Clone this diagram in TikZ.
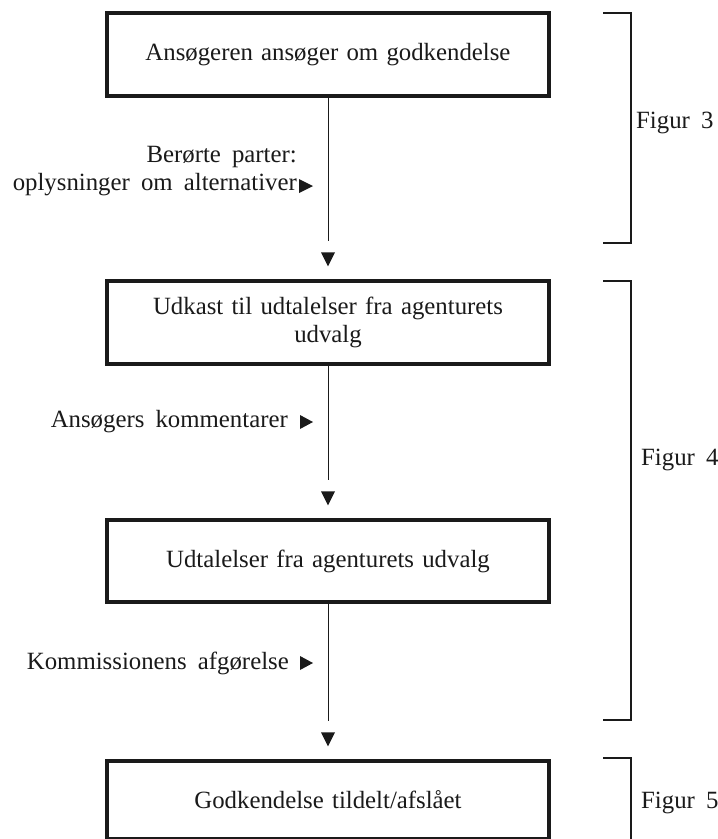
\documentclass[tikz,border=0pt]{standalone}
\usepackage{fontspec}
\setmainfont[WordSpace=1.8]{Liberation Serif}
\usetikzlibrary{calc}
\definecolor{ink}{HTML}{1A1A1A}
\newcommand\diafont{\fontsize{24.8}{28}\selectfont}
\begin{document}
\begin{tikzpicture}[x=1pt,y=-1pt,
  stage/.style={draw=ink, line width=3.5pt, minimum width=442pt, inner sep=0pt,
    align=center, text width=420pt, font=\diafont, text=ink},
  note/.style={inner sep=0pt, font=\diafont, text=ink},
  flow/.style={draw=ink, line width=0.9pt},
  bracket/.style={draw=ink, line width=1.1pt},
  headfill/.style={fill=ink}]
\useasboundingbox (0,0) rectangle (718,839);
\fill[white] (0,0) rectangle (718,839);

% process stages
\node[stage, minimum height=83pt] (b1) at (328,54.5) {Ansøgeren ansøger om godkendelse};
\node[stage, minimum height=83pt] (b2) at (328,322.5) {Udkast til udtalelser fra agenturets\\udvalg};
\node[stage, minimum height=82pt] (b3) at (328,561) {Udtalelser fra agenturets udvalg};
\node[stage, minimum height=78pt] (b4) at (328,800) {Godkendelse tildelt/afslået};

% downward flow: thin line, then a detached arrowhead
\foreach \a/\b in {b1/b2, b2/b3, b3/b4} {
  \draw[flow] (\a.south) -- ($(\b.north)+(0,-38)$);
  \fill[headfill] ($(\b.north)+(0,-13)$) -- ++(-7,-14) -- ++(14,0) -- cycle;
}

% inputs entering the flow
\node[note, anchor=east, align=right] (n1) at (297,171) {Berørte parter:\\oplysninger om alternativer};
\fill[headfill] (299,179) -- (313,186) -- (299,193) -- cycle;

\node[note, anchor=east] (n2) at (288,422) {Ansøgers kommentarer};
\fill[headfill] (300,415) -- (313,422) -- (300,429) -- cycle;

\node[note, anchor=east] (n3) at (289,663) {Kommissionens afgørelse};
\fill[headfill] (300,656) -- (313,663) -- (300,670) -- cycle;

% figure brackets
\draw[bracket] (603,13) -- (631,13) -- (631,243) -- (603,243);
\node[note, anchor=west] (f3) at (636,123) {Figur 3};

\draw[bracket] (603,281) -- (631,281) -- (631,720) -- (603,720);
\node[note, anchor=west] (f4) at (641,460) {Figur 4};

\draw[bracket] (603,758) -- (631,758) -- (631,845);
\node[note, anchor=west] (f5) at (641,803) {Figur 5};
\end{tikzpicture}
\end{document}
